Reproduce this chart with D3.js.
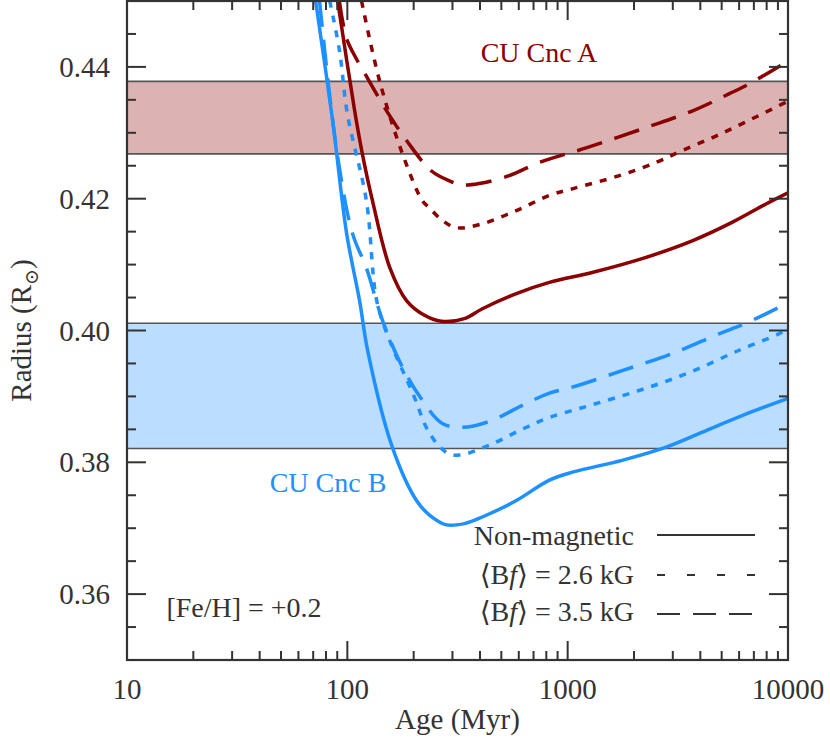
<!DOCTYPE html>
<html><head><meta charset="utf-8">
<script src="https://cdn.jsdelivr.net/npm/d3@7"></script>
<style>body{margin:0;background:#fff}svg{display:block}</style>
</head><body>
<script>
// ---- data ----
const aSolidAge = [90.4,108,117,130,156,186,224,267,340,410,585,826,1291,2270,3673,5572,7943,10000];
const aSolidR   = [0.4500,0.4333,0.4268,0.4197,0.4095,0.4045,0.4023,0.4014,0.4018,0.4033,0.4056,0.4073,0.4088,0.4111,0.4136,0.4164,0.4192,0.4209];
const aDotAge = [116,140,178,219,236,270,313,410,585,826,1050,1715,2520,3304,4710,6850,10000];
const aDotR   = [0.4500,0.4379,0.4268,0.4197,0.4186,0.4167,0.4156,0.4162,0.4182,0.4205,0.4215,0.4235,0.4255,0.4273,0.4295,0.4321,0.4348];
const aDashAge = [92,99,110,124,133,151,186,241,291,330,397,543,743,1213,2270,3673,5395,6650,10000];
const aDashR   = [0.4500,0.4444,0.4412,0.4382,0.4364,0.4333,0.4288,0.4242,0.4227,0.4221,0.4223,0.4235,0.4255,0.4277,0.4308,0.4333,0.4359,0.4374,0.4409];
const bSolidAge = [71.8,85.8,99.3,113.7,123.6,160,206,236,282,340,410,585,826,1050,1766,2800,4520,7160,10000];
const bSolidR   = [0.4500,0.4318,0.4147,0.4045,0.3970,0.3823,0.3742,0.3720,0.3705,0.3707,0.3717,0.3742,0.3773,0.3785,0.3803,0.3823,0.3852,0.3879,0.3897];
const bDotAge = [83.2,92.2,100,122,136,155.6,198,236,282,323,441,620,826,1253,2110,3556,5996,9100,10000];
const bDotR   = [0.4500,0.4424,0.4329,0.4197,0.4045,0.3985,0.3905,0.3844,0.3815,0.3811,0.3826,0.3850,0.3868,0.3886,0.3909,0.3936,0.3970,0.3995,0.4003];
const bDashAge = [74.8,89.5,105.6,122,144.5,178,219,270,333,441,620,826,1050,1766,2979,4864,6440,10000];
const bDashR   = [0.4500,0.4273,0.4147,0.4095,0.4015,0.3944,0.3894,0.3859,0.3853,0.3862,0.3886,0.3905,0.3914,0.3939,0.3965,0.3995,0.4011,0.4042];
const bandA = [0.4268, 0.4378];
const bandB = [0.3821, 0.4011];
const xTickVals = [10,100,1000,10000];
const xTickLabels = ["10","100","1000","10000"];
const yTickVals = [0.36,0.38,0.40,0.42,0.44];
const yTickLabels = ["0.36","0.38","0.40","0.42","0.44"];
const legendLabels = ["Non-magnetic","2.6 kG","3.5 kG"];

const FONT="'Liberation Serif','DejaVu Serif','Times New Roman',Times,serif";
const W=830,H=749, L=127,R=788,T=1,B=660;
const red="#8b0000", blue="#1e90ff", ax="#333";
const svg=d3.select("body").append("svg").attr("width",W).attr("height",H).attr("font-family",FONT);
const x=d3.scaleLog().domain([10,10000]).range([L,R]);
const y=d3.scaleLinear().domain([0.35,0.45]).range([B,T]);

svg.append("clipPath").attr("id","clip").append("rect").attr("x",L).attr("y",T).attr("width",R-L).attr("height",B-T);
const g=svg.append("g").attr("clip-path","url(#clip)");

// bands
[[bandA,red],[bandB,blue]].forEach(([b,c])=>{
  g.append("rect").attr("x",L).attr("width",R-L).attr("y",y(b[1])).attr("height",y(b[0])-y(b[1]))
   .attr("fill",c).attr("fill-opacity",0.3);
  b.forEach(v=>g.append("line").attr("x1",L).attr("x2",R).attr("y1",y(v)).attr("y2",y(v))
   .attr("stroke","#555").attr("stroke-width",1.6));
});

const line=d3.line().x(d=>x(d[0])).y(d=>y(d[1])).curve(d3.curveCatmullRom.alpha(0.5));
const series=[
  [aSolidAge,aSolidR,red,null],[aDotAge,aDotR,red,"7,8"],[aDashAge,aDashR,red,"26,13"],
  [bSolidAge,bSolidR,blue,null],[bDotAge,bDotR,blue,"7,8"],[bDashAge,bDashR,blue,"26,13"]];
series.forEach(([ag,rr,c,da])=>{
  g.append("path").datum(ag.map((a,i)=>[a,rr[i]])).attr("d",line).attr("fill","none")
   .attr("stroke",c).attr("stroke-width",3.5).attr("stroke-dasharray",da);
});

// axes frame and ticks
const fr=svg.append("g");
fr.append("rect").attr("x",L).attr("y",T).attr("width",R-L).attr("height",B-T).attr("fill","none").attr("stroke",ax).attr("stroke-width",2.2);
const xMinor=[];[10,100,1000].forEach(d=>{for(let k=2;k<=9;k++)xMinor.push(d*k);});
const yAll=d3.range(71).map(i=>0.35+i*0.005).filter(v=>v>0.3501&&v<0.4499);
function tk(x1,y1,x2,y2){fr.append("line").attr("x1",x1).attr("y1",y1).attr("x2",x2).attr("y2",y2).attr("stroke",ax).attr("stroke-width",2);}
xTickVals.forEach(v=>{const px=x(v);tk(px,B,px,B-19);tk(px,T,px,T+19);});
xMinor.forEach(v=>{const px=x(v);tk(px,B,px,B-9);tk(px,T,px,T+9);});
yAll.forEach(v=>{const major=yTickVals.some(m=>Math.abs(m-v)<1e-6);const len=major?19:9;const py=y(v);tk(L,py,L+len,py);tk(R,py,R-len,py);});

// tick labels
xTickVals.forEach((v,i)=>svg.append("text").attr("x",x(v)).attr("y",699).attr("text-anchor","middle").attr("font-size",29).attr("fill",ax).text(xTickLabels[i]));
yTickVals.forEach((v,i)=>svg.append("text").attr("x",110).attr("y",y(v)+10).attr("text-anchor","end").attr("font-size",29).attr("fill",ax).text(yTickLabels[i]));

// axis titles
svg.append("text").attr("x",(L+R)/2).attr("y",729).attr("text-anchor","middle").attr("font-size",29).attr("fill",ax).text("Age (Myr)");
const yl=svg.append("text").attr("transform",`translate(31,${(T+B)/2}) rotate(-90)`).attr("text-anchor","middle").attr("font-size",29).attr("fill",ax);
yl.append("tspan").text("Radius (R");
yl.append("tspan").attr("font-size",19).attr("dy",7).text("⊙");
yl.append("tspan").attr("dy",-7).text(")");

// annotations
svg.append("text").attr("x",539).attr("y",62).attr("text-anchor","middle").attr("font-size",28).attr("fill",red).text("CU Cnc A");
svg.append("text").attr("x",328).attr("y",492).attr("text-anchor","middle").attr("font-size",28).attr("fill",blue).text("CU Cnc B");
svg.append("text").attr("x",244).attr("y",617).attr("text-anchor","middle").attr("font-size",28).attr("fill",ax).text("[Fe/H] = +0.2");

// legend
const lg=[[545,535,null],[584,575,"8,22"],[621,614,"23,13"]];
lg.forEach(([by,ly,da],i)=>{
  const t=svg.append("text").attr("x",634).attr("y",by).attr("text-anchor","end").attr("font-size",28).attr("fill",ax);
  if(i===0) t.text(legendLabels[0]);
  else { t.append("tspan").text("⟨B"); t.append("tspan").attr("font-style","italic").text("f"); t.append("tspan").text("⟩ = "+legendLabels[i]); }
  svg.append("line").attr("x1",657).attr("x2",755).attr("y1",ly).attr("y2",ly).attr("stroke",ax).attr("stroke-width",2.2).attr("stroke-dasharray",da);
});
</script>
</body></html>
